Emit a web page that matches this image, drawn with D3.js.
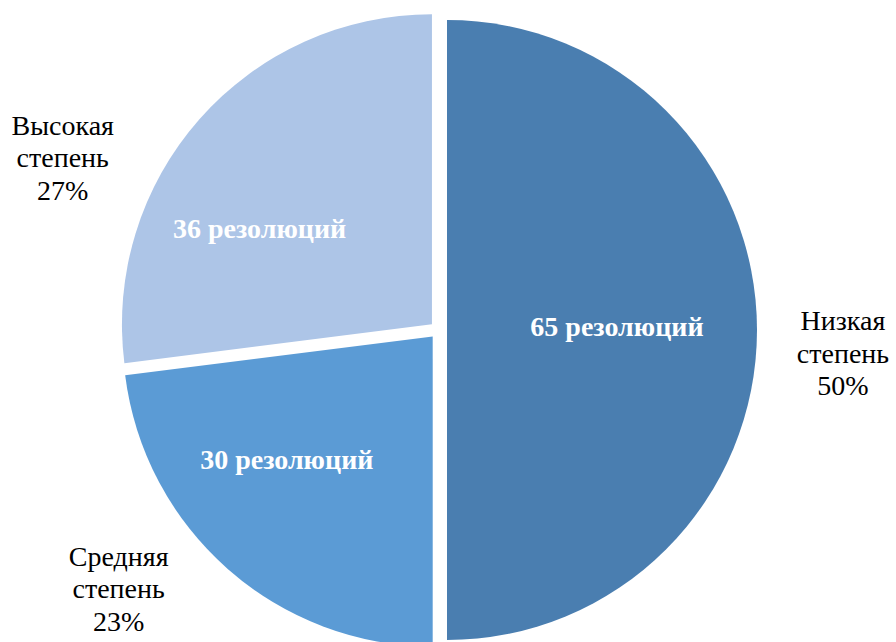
<!DOCTYPE html>
<html>
<head>
<meta charset="utf-8">
<script src="https://cdn.jsdelivr.net/npm/d3@7/dist/d3.min.js"></script>
</head>
<body style="margin:0">
<div id="wrap" style="position:relative;width:896px;height:642px;overflow:hidden;background:#fff;">
<svg id="chart" width="896" height="642" style="position:absolute;left:0;top:0;"></svg>
</div>
<script>
// ---- data ----
const categories = ["Низкая", "Средняя", "Высокая"];
const categorySuffix = ["степень", "степень", "степень"];
const shares = [50, 23, 27];          // percent shares (slice sizes)
const counts = [65, 30, 36];          // number of resolutions
const innerSuffix = "резолюций";
const colors = ["#4A7EB0", "#5B9BD5", "#ADC5E7"];

// ---- layout ----
const cx = 438.4, cy = 330, R = 310, explode = 8.6;
const FONT = '"Liberation Serif", Tinos, "Times New Roman", serif';
// label placement (polar, degrees clockwise from 12 o'clock)
const innerPolar = [{a: 89, r: 170}, {a: 229.8, r: 191}, {a: 299, r: 197}];
const outerPolar = [{a: 94.8, r: 406}, {a: 229.9, r: 418}, {a: 293.3, r: 409}];

const svg = d3.select("#chart");
const wrap = d3.select("#wrap");
const pie = d3.pie().sort(null).value(d => d)(shares);
const arc = d3.arc().innerRadius(0).outerRadius(R);

const rad = a => a * Math.PI / 180;
const polar = (a, r) => [r * Math.sin(rad(a)), -r * Math.cos(rad(a))];

const g = svg.append("g").attr("transform", `translate(${cx},${cy})`);

pie.forEach((p, i) => {
  const mid = (p.startAngle + p.endAngle) / 2;
  const ox = explode * Math.sin(mid), oy = -explode * Math.cos(mid);
  g.append("path").attr("transform", `translate(${ox},${oy})`)
    .attr("d", arc(p)).attr("fill", colors[i]);
});

pie.forEach((p, i) => {
  const mid = (p.startAngle + p.endAngle) / 2;
  const ox = explode * Math.sin(mid), oy = -explode * Math.cos(mid);
  const [lx, ly] = polar(innerPolar[i].a, innerPolar[i].r);
  wrap.append("div")
    .style("position", "absolute")
    .style("left", (cx + ox + lx) + "px")
    .style("top", (cy + oy + ly) + "px")
    .style("transform", "translate(-50%,-50%)")
    .style("white-space", "nowrap")
    .style("font-family", FONT)
    .style("font-size", "28px")
    .style("font-weight", "bold")
    .style("line-height", "32px")
    .style("color", "#fff")
    .text(counts[i] + " " + innerSuffix);

  const [tx, ty] = polar(outerPolar[i].a, outerPolar[i].r);
  const box = wrap.append("div")
    .style("position", "absolute")
    .style("left", (cx + tx) + "px")
    .style("top", (cy + ty - 9.5) + "px")
    .style("transform", "translate(-50%,-50%)")
    .style("white-space", "nowrap")
    .style("text-align", "center")
    .style("font-family", FONT)
    .style("font-size", "28px")
    .style("line-height", "32.5px")
    .style("color", "#000");
  [categories[i], categorySuffix[i], shares[i] + "%"].forEach(s => {
    box.append("div").text(s);
  });
});
</script>
</body>
</html>
